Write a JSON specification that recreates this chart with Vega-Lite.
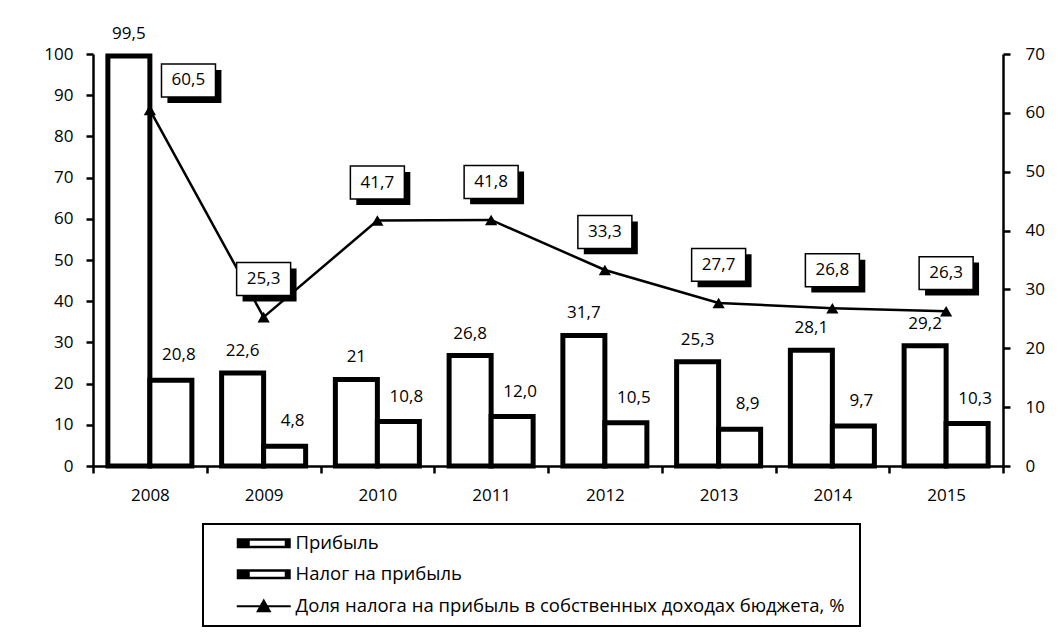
{
  "$schema": "https://vega.github.io/schema/vega-lite/v6.json",
  "width": 910,
  "height": 412,
  "autosize": {"type": "none"},
  "padding": {"left": 93, "top": 54, "right": 55, "bottom": 176},
  "background": "white",
  "config": {
    "view": {"stroke": null},
    "font": "Open Sans",
    "axis": {
      "labelFont": "Open Sans", "labelFontSize": 17, "labelColor": "black",
      "domainColor": "black", "tickColor": "black", "domainWidth": 2.5, "tickWidth": 2.5,
      "tickSize": 7, "grid": false, "title": null
    },
    "legend": {
      "orient": "none", "legendX": 110, "legendY": 470,
      "direction": "vertical", "padding": 10,
      "strokeColor": "black", "fillColor": "white",
      "symbolSize": 625, "labelOffset": 64, "rowPadding": 12,
      "labelFont": "Open Sans", "labelFontSize": 18.5, "labelColor": "black", "labelLimit": 900
    }
  },
  "datasets": {
    "bars": [
      {"year": "2008", "series": "Прибыль", "value": 99.5, "label": "99,5"},
      {"year": "2008", "series": "Налог на прибыль", "value": 20.8, "label": "20,8"},
      {"year": "2009", "series": "Прибыль", "value": 22.6, "label": "22,6"},
      {"year": "2009", "series": "Налог на прибыль", "value": 4.8, "label": "4,8"},
      {"year": "2010", "series": "Прибыль", "value": 21, "label": "21"},
      {"year": "2010", "series": "Налог на прибыль", "value": 10.8, "label": "10,8"},
      {"year": "2011", "series": "Прибыль", "value": 26.8, "label": "26,8"},
      {"year": "2011", "series": "Налог на прибыль", "value": 12.0, "label": "12,0"},
      {"year": "2012", "series": "Прибыль", "value": 31.7, "label": "31,7"},
      {"year": "2012", "series": "Налог на прибыль", "value": 10.5, "label": "10,5"},
      {"year": "2013", "series": "Прибыль", "value": 25.3, "label": "25,3"},
      {"year": "2013", "series": "Налог на прибыль", "value": 8.9, "label": "8,9"},
      {"year": "2014", "series": "Прибыль", "value": 28.1, "label": "28,1"},
      {"year": "2014", "series": "Налог на прибыль", "value": 9.7, "label": "9,7"},
      {"year": "2015", "series": "Прибыль", "value": 29.2, "label": "29,2"},
      {"year": "2015", "series": "Налог на прибыль", "value": 10.3, "label": "10,3"}
    ],
    "share": [
      {"year": "2008", "series": "Доля налога на прибыль в собственных доходах  бюджета, %", "share": 60.5, "label": "60,5"},
      {"year": "2009", "series": "Доля налога на прибыль в собственных доходах  бюджета, %", "share": 25.3, "label": "25,3"},
      {"year": "2010", "series": "Доля налога на прибыль в собственных доходах  бюджета, %", "share": 41.7, "label": "41,7"},
      {"year": "2011", "series": "Доля налога на прибыль в собственных доходах  бюджета, %", "share": 41.8, "label": "41,8"},
      {"year": "2012", "series": "Доля налога на прибыль в собственных доходах  бюджета, %", "share": 33.3, "label": "33,3"},
      {"year": "2013", "series": "Доля налога на прибыль в собственных доходах  бюджета, %", "share": 27.7, "label": "27,7"},
      {"year": "2014", "series": "Доля налога на прибыль в собственных доходах  бюджета, %", "share": 26.8, "label": "26,8"},
      {"year": "2015", "series": "Доля налога на прибыль в собственных доходах  бюджета, %", "share": 26.3, "label": "26,3"}
    ]
  },
  "encoding": {
    "x": {
      "field": "year", "type": "ordinal",
      "scale": {"paddingInner": 0, "paddingOuter": 0},
      "axis": {"labelAngle": 0, "tickBand": "extent", "labelPadding": 14, "title": null}
    }
  },
  "layer": [
    {
      "data": {"name": "bars"},
      "encoding": {
        "y": {
          "field": "value", "type": "quantitative",
          "scale": {"domain": [0, 100], "nice": false},
          "axis": {"orient": "left", "values": [0, 10, 20, 30, 40, 50, 60, 70, 80, 90, 100], "labelPadding": 13}
        },
        "xOffset": {
          "field": "series", "type": "nominal",
          "scale": {"domain": ["Прибыль", "Налог на прибыль"], "paddingOuter": 0.354, "paddingInner": 0}
        }
      },
      "layer": [
        {
          "mark": {"type": "bar", "fill": "white", "strokeWidth": 5, "strokeJoin": "miter"},
          "encoding": {
            "stroke": {
              "field": "series", "type": "nominal",
              "scale": {"domain": ["Прибыль", "Налог на прибыль", "Доля налога на прибыль в собственных доходах  бюджета, %"], "range": ["black", "black", "black"]},
              "legend": {
                "title": null,
                "encode": {
                  "symbols": {"update": {
                    "shape": {"signal": "datum.index == 2 ? 'M1.16,0H5.48M2.84,0.4L3.32,-0.45L3.8,0.4Z' : 'M1.16,-0.4H5.48V0.4H1.16ZM2.2,-0.2V0.2H5.0V-0.2Z'"},
                    "fill": {"value": "black"},
                    "stroke": {"value": "black"},
                    "strokeWidth": {"signal": "datum.index == 2 ? 2 : 0"},
                    "opacity": {"value": 1}
                  }},
                  "legend": {"update": {"strokeWidth": {"value": 2}}}
                }
              }
            }
          }
        },
        {
          "transform": [{"filter": "datum.series == 'Прибыль'"}],
          "mark": {"type": "text", "dy": -17, "baseline": "alphabetic", "fontSize": 17, "font": "Open Sans", "color": "black"},
          "encoding": {"text": {"field": "label"}}
        },
        {
          "transform": [{"filter": "datum.series == 'Налог на прибыль'"}],
          "mark": {"type": "text", "dx": 8, "dy": -20, "baseline": "alphabetic", "fontSize": 17, "font": "Open Sans", "color": "black"},
          "encoding": {"text": {"field": "label"}}
        }
      ]
    },
    {
      "data": {"name": "share"},
      "encoding": {
        "y": {
          "field": "share", "type": "quantitative",
          "scale": {"domain": [0, 70], "nice": false},
          "axis": {"orient": "right", "values": [0, 10, 20, 30, 40, 50, 60, 70], "labelPadding": 15}
        }
      },
      "layer": [
        {
          "mark": {"type": "line", "strokeWidth": 2.5},
          "encoding": {
            "stroke": {
              "field": "series", "type": "nominal",
              "scale": {"domain": ["Прибыль", "Налог на прибыль", "Доля налога на прибыль в собственных доходах  бюджета, %"], "range": ["black", "black", "black"]},
              "legend": {
                "title": null,
                "encode": {
                  "symbols": {"update": {
                    "shape": {"signal": "datum.index == 2 ? 'M1.16,0H5.48M2.84,0.4L3.32,-0.45L3.8,0.4Z' : 'M1.16,-0.4H5.48V0.4H1.16ZM2.2,-0.2V0.2H5.0V-0.2Z'"},
                    "fill": {"value": "black"},
                    "stroke": {"value": "black"},
                    "strokeWidth": {"signal": "datum.index == 2 ? 2 : 0"},
                    "opacity": {"value": 1}
                  }},
                  "legend": {"update": {"strokeWidth": {"value": 2}}}
                }
              }
            }
          }
        },
        {
          "mark": {"type": "point", "shape": "triangle-up", "size": 150, "filled": true, "fill": "black", "opacity": 1}
        },
        {
          "transform": [{"filter": "datum.year != '2008'"}],
          "mark": {"type": "point", "shape": "M-0.78,-1.8H1.22V-0.58H-0.78Z", "size": 2916, "filled": true, "fill": "black", "strokeWidth": 0, "opacity": 1}
        },
        {
          "transform": [{"filter": "datum.year != '2008'"}],
          "mark": {"type": "point", "shape": "M-1,-2.02H1V-0.8H-1Z", "size": 2916, "filled": true, "fill": "white", "stroke": "black", "strokeWidth": 1.5, "opacity": 1}
        },
        {
          "transform": [{"filter": "datum.year != '2008'"}],
          "mark": {"type": "text", "dy": -38, "baseline": "middle", "fontSize": 17, "font": "Open Sans", "color": "black"},
          "encoding": {"text": {"field": "label"}}
        },
        {
          "transform": [{"filter": "datum.year == '2008'"}],
          "mark": {"type": "point", "shape": "M0.65,-1.48H2.65V-0.26H0.65Z", "size": 2916, "filled": true, "fill": "black", "strokeWidth": 0, "opacity": 1}
        },
        {
          "transform": [{"filter": "datum.year == '2008'"}],
          "mark": {"type": "point", "shape": "M0.43,-1.7H2.43V-0.48H0.43Z", "size": 2916, "filled": true, "fill": "white", "stroke": "black", "strokeWidth": 1.5, "opacity": 1}
        },
        {
          "transform": [{"filter": "datum.year == '2008'"}],
          "mark": {"type": "text", "dx": 38.5, "dy": -29.5, "baseline": "middle", "fontSize": 17, "font": "Open Sans", "color": "black"},
          "encoding": {"text": {"field": "label"}}
        }
      ]
    }
  ],
  "resolve": {"scale": {"y": "independent"}}
}
